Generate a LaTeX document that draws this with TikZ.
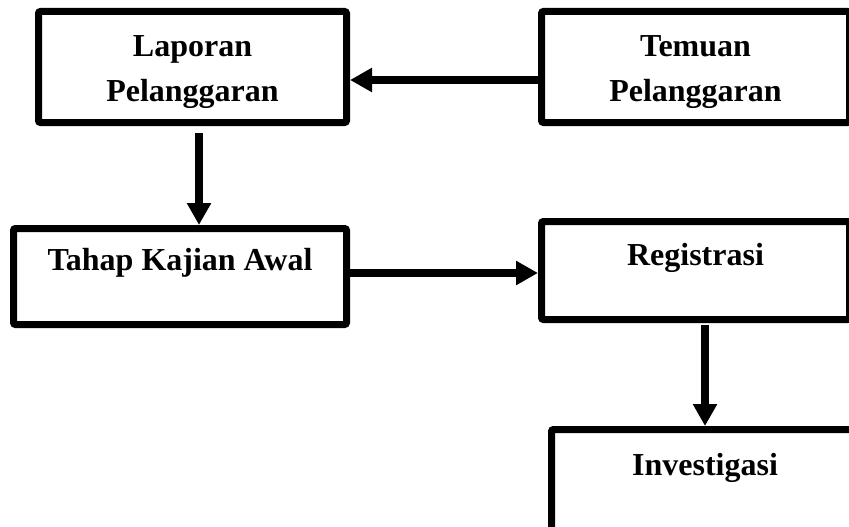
\documentclass[tikz,border=0pt]{standalone}
\usepackage{fontspec}
\setmainfont{Liberation Serif}
\usetikzlibrary{arrows.meta, calc}

\begin{document}
\begin{tikzpicture}[x=1pt, y=-1pt,
        b/.style={rectangle, draw=black, line width=7pt, rounded corners=2pt,
                  fill=white, align=center, inner xsep=0pt, inner ysep=0pt,
                  font=\fontsize{32}{46}\selectfont\bfseries, anchor=north west},
        arr/.style={-{Triangle[length=22pt,width=23pt]}, line width=8pt, black}]
      \useasboundingbox (0,0) rectangle (849,527);
      \node[b, minimum width=308pt, text height=90.5pt, text depth=20.5pt] (lap) at (35,8) {Laporan\\Pelanggaran};
      \node[b, minimum width=308pt, text height=90.5pt, text depth=20.5pt] (tem) at (538,8) {Temuan\\Pelanggaran};
      \node[b, minimum width=333pt, text height=41.5pt, text depth=54.5pt] (kaj) at (10,225) {Tahap Kajian Awal};
      \node[b, minimum width=308pt, text height=43.5pt, text depth=54.5pt] (reg) at (538,218) {Registrasi};
      \node[b, minimum width=307pt, text height=45.5pt, text depth=56.5pt] (inv) at (548,426) {Investigasi};
      \draw[arr] ($(tem.west)+(0,13)$) -- ($(lap.east)+(0,13)$);
      \draw[arr] ($(lap.south)+(6.5,7)$) -- ($(kaj.north)+(19,0)$);
      \draw[arr] ($(kaj.east)+(0,-3.5)$) -- ($(reg.west)+(0,2.5)$);
      \draw[arr] ($(reg.south)+(9.5,2)$) -- (inv.north);
    \end{tikzpicture}
\end{document}
